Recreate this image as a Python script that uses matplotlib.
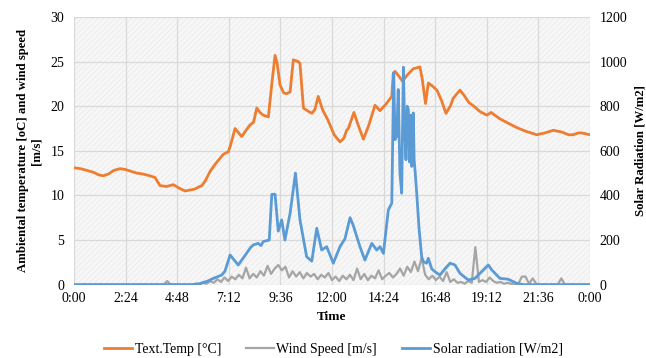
import matplotlib
matplotlib.use("Agg")
import matplotlib.pyplot as plt
from matplotlib.patches import Rectangle

# ---- data -------------------------------------------------------------
temp_hours = [0.0, 0.3, 0.6, 0.9, 1.15, 1.36, 1.6, 1.85, 2.14, 2.4,
              2.65, 2.92, 3.2, 3.53, 3.77, 4.0, 4.3, 4.62, 4.9, 5.16,
              5.4, 5.6, 5.94, 6.1, 6.33, 6.6, 6.94, 7.18, 7.3, 7.49,
              7.8, 8.0, 8.19, 8.35, 8.5, 8.65, 8.8, 9.04, 9.2, 9.35,
              9.45, 9.58, 9.75, 9.89, 10.05, 10.2, 10.43, 10.51, 10.67, 10.85,
              11.06, 11.2, 11.36, 11.56, 11.8, 12.1, 12.37, 12.55, 12.68, 12.76,
              13.02, 13.2, 13.46, 13.7, 14.0, 14.23, 14.5, 14.78, 14.85, 14.93,
              15.1, 15.28, 15.5, 15.78, 16.09, 16.2, 16.35, 16.48, 16.7, 16.88,
              17.1, 17.3, 17.5, 17.64, 17.95, 18.15, 18.37, 18.6, 18.88, 19.2,
              19.4, 19.8, 20.19, 20.6, 21.0, 21.52, 21.9, 22.29, 22.7, 23.0,
              23.22, 23.45, 23.63, 24.0]
temp_values = [13.1, 13.0, 12.8, 12.6, 12.3, 12.2, 12.4, 12.8, 13.0, 12.9,
               12.7, 12.5, 12.4, 12.2, 12.0, 11.1, 11.0, 11.2, 10.8, 10.5,
               10.6, 10.7, 11.1, 11.6, 12.7, 13.6, 14.6, 14.9, 15.8, 17.5,
               16.6, 17.3, 17.9, 18.2, 19.8, 19.3, 19.0, 18.8, 22.5, 25.7,
               24.8, 22.4, 21.5, 21.4, 21.6, 25.2, 25.0, 24.8, 19.8, 19.5,
               19.2, 19.6, 21.1, 19.6, 18.5, 16.8, 16.0, 16.4, 17.3, 17.5,
               19.3, 18.0, 16.3, 17.8, 20.1, 19.5, 20.2, 21.1, 23.7, 23.9,
               23.4, 22.8, 23.5, 24.2, 24.4, 23.0, 20.3, 22.6, 22.2, 21.8,
               20.6, 19.2, 20.0, 20.9, 21.8, 21.2, 20.4, 20.0, 19.4, 19.0,
               19.3, 18.6, 18.1, 17.6, 17.2, 16.8, 17.0, 17.3, 17.1, 16.8,
               16.8, 17.0, 17.0, 16.8]

# wind speed, one reading every 10 minutes (6 per hour), m/s
wind_values = [
    0, 0, 0, 0, 0, 0,            # 0h
    0, 0, 0, 0, 0, 0,            # 1h
    0, 0, 0, 0, 0, 0,            # 2h
    0, 0, 0, 0, 0, 0,            # 3h
    0, 0, 0.4, 0, 0, 0,          # 4h
    0, 0, 0, 0, 0.1, 0,          # 5h
    0.2, 0.1, 0.4, 0.2, 0.6, 0.3,  # 6h
    0.8, 0.4, 0.9, 0.6, 1.1, 0.7,  # 7h
    1.9, 0.7, 1.2, 0.8, 1.5, 1.0,  # 8h
    2.1, 1.2, 1.8, 2.2, 1.6, 2.0,  # 9h
    0.8, 1.5, 0.9, 1.4, 0.7, 1.3,  # 10h
    0.9, 1.2, 0.6, 1.1, 0.8, 1.3,  # 11h
    0.5, 0.9, 0.4, 1.0, 0.6, 1.1,  # 12h
    0.5, 1.8, 0.6, 1.2, 0.5, 1.0,  # 13h
    0.7, 1.6, 0.6, 1.0, 1.3, 0.8,  # 14h
    1.2, 1.8, 1.0, 2.0, 1.4, 2.6,  # 15h
    1.5, 3.0, 1.1, 0.6, 1.0, 0.5,  # 16h
    0.9, 0.4, 1.4, 0.3, 0.6, 0.2,  # 17h
    0.3, 0.1, 0.4, 0.2, 4.2, 0.3,  # 18h
    0.5, 0.3, 0.8, 0.4, 0.2, 0.3,  # 19h
    0.1, 0.2, 0.1, 0.0, 0.1, 0.9,  # 20h
    0.9, 0.1, 0.7, 0.1, 0, 0,      # 21h
    0, 0, 0, 0, 0.7, 0,            # 22h
    0, 0, 0, 0, 0, 0,              # 23h
    0,
]
wind_hours = [i / 6 for i in range(len(wind_values))]

solar_hours = [0.0, 5.5, 5.86, 6.2, 6.48, 6.87, 7.02, 7.26, 7.45, 7.64,
               7.95, 8.2, 8.34, 8.56, 8.7, 8.8, 9.08, 9.2, 9.35, 9.5,
               9.66, 9.81, 10.05, 10.3, 10.51, 10.82, 11.06, 11.29, 11.52, 11.75,
               12.06, 12.37, 12.6, 12.84, 12.99, 13.3, 13.53, 13.85, 14.08, 14.23,
               14.39, 14.62, 14.78, 14.87, 14.93, 15.01, 15.08, 15.16, 15.24, 15.32,
               15.38, 15.44, 15.5, 15.55, 15.6, 15.66, 15.71, 15.78, 15.82, 15.86,
               15.94, 16.05, 16.17, 16.25, 16.4, 16.48, 16.64, 16.79, 17.02, 17.25,
               17.49, 17.72, 17.95, 18.15, 18.34, 18.65, 18.96, 19.27, 19.43, 19.81,
               20.2, 20.59, 20.9, 24.0]
solar_values = [0, 0, 5, 15, 28, 43, 60, 133, 110, 88,
                130, 165, 178, 185, 175, 193, 200, 405, 405, 240,
                290, 200, 320, 500, 290, 125, 105, 253, 155, 170,
                96, 170, 205, 300, 265, 170, 110, 185, 155, 170,
                140, 335, 365, 950, 650, 665, 875, 500, 410, 975,
                700, 560, 800, 785, 550, 760, 530, 770, 560, 515,
                410, 250, 125, 103, 96, 118, 70, 58, 43, 70,
                96, 88, 51, 35, 21, 28, 58, 88, 66, 28,
                24, 6, 0, 0]

tick_hours = [0, 2.4, 4.8, 7.2, 9.6, 12.0, 14.4, 16.8, 19.2, 21.6, 24.0]
tick_labels = ["0:00", "2:24", "4:48", "7:12", "9:36", "12:00",
               "14:24", "16:48", "19:12", "21:36", "0:00"]

# ---- styling ----------------------------------------------------------
plt.rcParams["font.family"] = ["Liberation Serif", "DejaVu Serif"]
plt.rcParams["hatch.linewidth"] = 0.6

C_TEMP = "#ED7D31"
C_WIND = "#A5A5A5"
C_SOLAR = "#5B9BD5"
C_GRID = "#d9d9d9"

fig = plt.figure(figsize=(6.46, 3.58), dpi=100)
ax = fig.add_axes([0.1146, 0.205, 0.7987, 0.7475])
ax.set_facecolor("#f7f7f7")
ax.add_patch(Rectangle((0, 0), 1, 1, transform=ax.transAxes, facecolor="none",
                       edgecolor="#ebebeb", hatch="//////", linewidth=0, zorder=0))

l_temp, = ax.plot(temp_hours, temp_values, color=C_TEMP, lw=2.0, zorder=3,
                  label="Text.Temp [°C]")
l_wind, = ax.plot(wind_hours, wind_values, color=C_WIND, lw=1.6, zorder=3,
                  label="Wind Speed [m/s]")

ax.set_xlim(0, 24)
ax.set_ylim(0, 30)
ax.set_yticks(range(0, 31, 5))
ax.set_xticks(tick_hours)
ax.set_xticklabels(tick_labels)
ax.grid(True, color=C_GRID, lw=0.9, zorder=1)
ax.set_axisbelow(True)
for s in ax.spines.values():
    s.set_visible(False)
ax.tick_params(length=0, labelsize=10, pad=7)
ax.tick_params(axis="x", pad=5)

ax2 = ax.twinx()
l_solar, = ax2.plot(solar_hours, solar_values, color=C_SOLAR, lw=2.0, zorder=4,
                    label="Solar radiation [W/m2]")
ax2.set_ylim(0, 1200)
ax2.set_yticks(range(0, 1201, 200))
for s in ax2.spines.values():
    s.set_visible(False)
ax2.tick_params(length=0, labelsize=10, pad=7)

ax.set_xlabel("Time", fontsize=9.5, fontweight="bold", labelpad=5)
ax.set_ylabel("Ambiental temperature [oC] and wind speed\n[m/s]",
              fontsize=9.2, fontweight="bold", labelpad=6, linespacing=1.15)
ax2.set_ylabel("Solar Radiation [W/m2]", fontsize=9.2, fontweight="bold",
               labelpad=5)

fig.legend(handles=[l_temp, l_wind, l_solar], loc="center",
           bbox_to_anchor=(0.516, 0.025), ncol=3, frameon=False, fontsize=10,
           handlelength=2.0, columnspacing=1.8, handletextpad=0.2)

fig.savefig("out.png", dpi=100)
